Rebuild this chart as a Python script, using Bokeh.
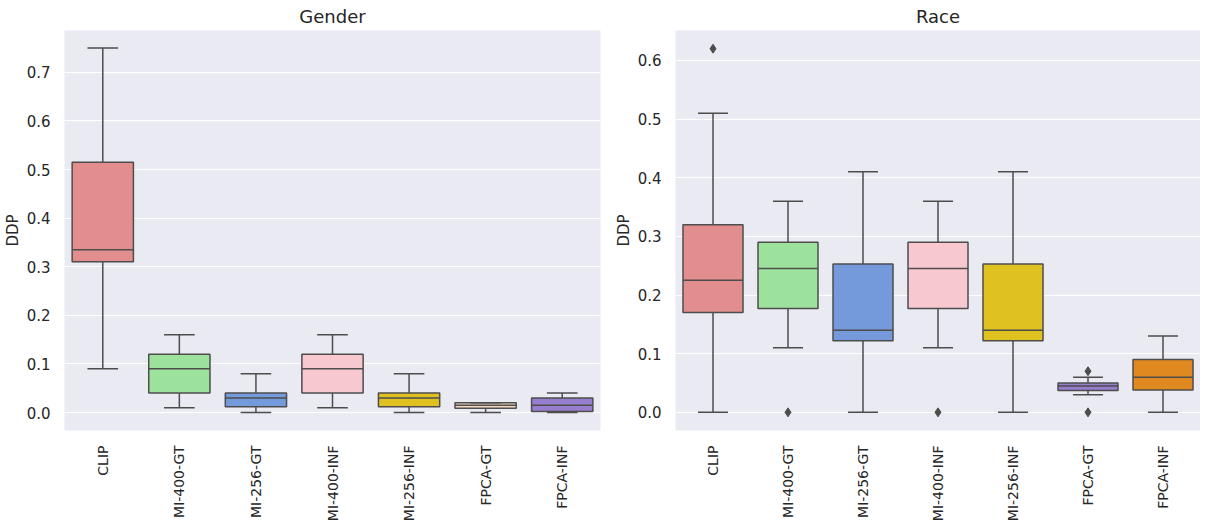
import math
from bokeh.plotting import figure
from bokeh.layouts import row
from bokeh.models import ColumnDataSource, FactorRange, Range1d, FixedTicker, PrintfTickFormatter
from bokeh.transform import dodge
from bokeh.embed import file_html
from bokeh.resources import INLINE

categories = ["CLIP", "MI-400-GT", "MI-256-GT", "MI-400-INF", "MI-256-INF", "FPCA-GT", "FPCA-INF"]

# Gender panel: whisker low, Q1, median, Q3, whisker high
gender_lo = [0.09, 0.01, 0.0, 0.01, 0.0, 0.0, 0.0]
gender_q1 = [0.31, 0.04, 0.012, 0.04, 0.012, 0.009, 0.002]
gender_med = [0.335, 0.09, 0.03, 0.09, 0.03, 0.015, 0.015]
gender_q3 = [0.515, 0.12, 0.04, 0.12, 0.04, 0.02, 0.03]
gender_hi = [0.75, 0.16, 0.08, 0.16, 0.08, 0.02, 0.04]
gender_colors = ["#e28e8e", "#9ce29c", "#759adc", "#f7c8d0", "#dfc120", "#f6dbc2", "#977dce"]
gender_out_cat = []
gender_out_val = []

# Race panel
race_lo = [0.0, 0.11, 0.0, 0.11, 0.0, 0.03, 0.0]
race_q1 = [0.17, 0.177, 0.122, 0.177, 0.122, 0.037, 0.038]
race_med = [0.225, 0.245, 0.14, 0.245, 0.14, 0.045, 0.06]
race_q3 = [0.32, 0.29, 0.253, 0.29, 0.253, 0.05, 0.09]
race_hi = [0.51, 0.36, 0.41, 0.36, 0.41, 0.06, 0.13]
race_colors = ["#e28e8e", "#9ce29c", "#759adc", "#f7c8d0", "#dfc120", "#977dce", "#df8920"]
race_out_cat = ["CLIP", "MI-400-GT", "MI-400-INF", "FPCA-GT", "FPCA-GT"]
race_out_val = [0.62, 0.0, 0.0, 0.07, 0.0]

FONT = "DejaVu Sans"
EDGE = "#4d4d4d"
TXT = "#262626"


def make_panel(title, lo, q1, med, q3, hi, colors, out_cat, out_val, yr, ticks, fw, bl, br):
    p = figure(x_range=FactorRange(*categories), y_range=Range1d(*yr),
               frame_width=fw, frame_height=400, output_backend="svg", toolbar_location=None,
               min_border_left=bl, min_border_right=br, min_border_top=26, min_border_bottom=84)
    p.background_fill_color = "#eaeaf2"
    p.border_fill_color = "white"
    p.outline_line_color = None
    p.xgrid.grid_line_color = None
    p.ygrid.grid_line_color = "white"
    p.ygrid.grid_line_width = 1.2
    p.ygrid.ticker = FixedTicker(ticks=ticks)

    p.title.text = title
    p.title.align = "center"
    p.title.text_font = FONT
    p.title.text_font_size = "18px"
    p.title.text_font_style = "normal"
    p.title.text_color = TXT
    p.title.standoff = 7

    src = ColumnDataSource(dict(cat=categories, lo=lo, q1=q1, med=med, q3=q3, hi=hi, color=colors))
    p.segment(x0="cat", x1="cat", y0="lo", y1="hi", source=src, line_color=EDGE, line_width=1.5)
    p.vbar(x="cat", top="q3", bottom="q1", width=0.8, source=src, fill_color="color",
           line_color=EDGE, line_width=1.5)
    p.segment(x0=dodge("cat", -0.4, range=p.x_range), x1=dodge("cat", 0.4, range=p.x_range),
              y0="med", y1="med", source=src, line_color=EDGE, line_width=1.5)
    p.segment(x0=dodge("cat", -0.2, range=p.x_range), x1=dodge("cat", 0.2, range=p.x_range),
              y0="lo", y1="lo", source=src, line_color=EDGE, line_width=1.5)
    p.segment(x0=dodge("cat", -0.2, range=p.x_range), x1=dodge("cat", 0.2, range=p.x_range),
              y0="hi", y1="hi", source=src, line_color=EDGE, line_width=1.5)
    if out_cat:
        osrc = ColumnDataSource(dict(cat=out_cat, val=out_val))
        p.scatter(x="cat", y="val", source=osrc, marker="diamond", size=9,
                  fill_color=EDGE, line_color=EDGE)

    p.yaxis.ticker = FixedTicker(ticks=ticks)
    p.yaxis.formatter = PrintfTickFormatter(format="%.1f")
    p.yaxis.axis_label = "DDP"
    for ax in (p.xaxis[0], p.yaxis[0]):
        ax.axis_line_color = None
        ax.major_tick_line_color = None
        ax.minor_tick_line_color = None
        ax.major_label_text_font = FONT
        ax.major_label_text_color = TXT
        ax.axis_label_text_font = FONT
        ax.axis_label_text_font_size = "15px"
        ax.axis_label_text_font_style = "normal"
        ax.axis_label_text_color = TXT
    p.yaxis.major_label_text_font_size = "15px"
    p.xaxis.major_label_text_font_size = "14px"
    p.xaxis.major_label_orientation = math.pi / 2
    p.xaxis.major_label_standoff = 9
    p.yaxis.major_label_standoff = 8
    p.yaxis.axis_label_standoff = 2
    return p


p1 = make_panel("Gender", gender_lo, gender_q1, gender_med, gender_q3, gender_hi, gender_colors,
                gender_out_cat, gender_out_val, (-0.037, 0.786),
                [0.0, 0.1, 0.2, 0.3, 0.4, 0.5, 0.6, 0.7], 536, 58, 10)
p2 = make_panel("Race", race_lo, race_q1, race_med, race_q3, race_hi, race_colors,
                race_out_cat, race_out_val, (-0.031, 0.651),
                [0.0, 0.1, 0.2, 0.3, 0.4, 0.5, 0.6], 525, 65, 0)

layout = row(p1, p2)
open("out.html", "w").write(file_html(layout, INLINE))
